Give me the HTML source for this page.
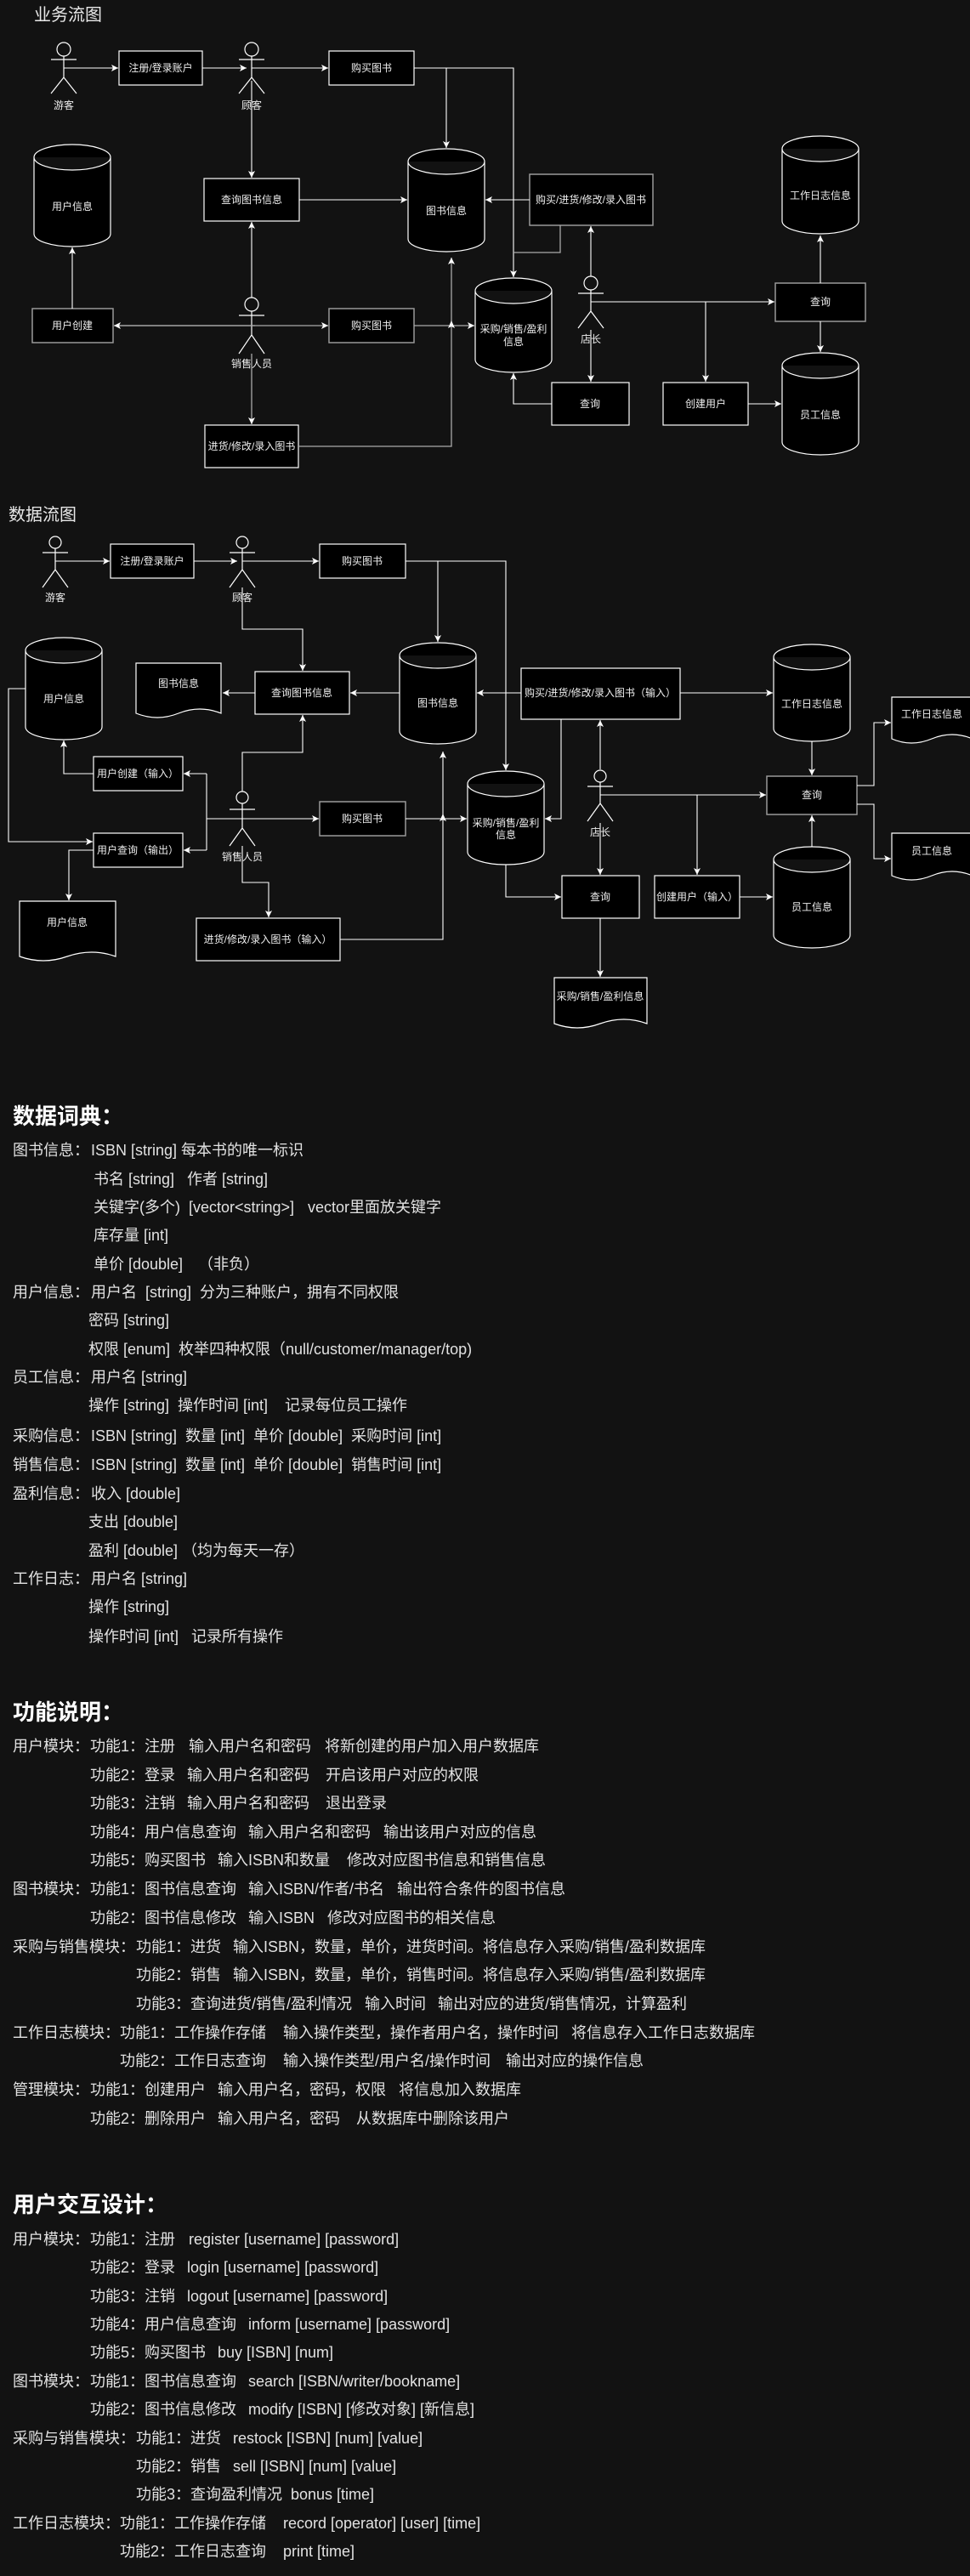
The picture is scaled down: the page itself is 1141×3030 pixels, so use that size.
<!DOCTYPE html>
<html><head><meta charset="utf-8">
<style>
html,body{margin:0;padding:0;background:#121212;}
body{width:1141px;height:3030px;position:relative;overflow:hidden;font-family:"Liberation Sans","Noto Sans CJK SC",sans-serif;color:#e2e2e2;}
svg{position:absolute;left:0;top:0;}
.t{position:absolute;font-size:18px;line-height:24px;white-space:pre;}
.h{position:absolute;font-size:26px;line-height:32px;font-weight:bold;color:#fff;white-space:pre;}
</style></head><body>
<svg width="1141" height="1240" viewBox="0 0 1141 1240" font-family="Liberation Sans, Noto Sans CJK SC, sans-serif">
<defs>
<marker id="a" markerUnits="userSpaceOnUse" markerWidth="10" markerHeight="10" refX="8" refY="4" orient="auto"><path d="M0,0 L8,4 L0,8 L2,4 z" fill="#fff"/></marker>
</defs>
<g fill="#e8e8e8" font-size="20"><text x="40" y="24">业务流图</text><text x="10" y="612">数据流图</text></g>

<!-- ===== Diagram 1 ===== -->
<g stroke="#fff" stroke-width="1.2" fill="#000">
<rect x="140" y="60" width="98" height="40"/>
<rect x="387" y="60" width="100" height="40"/>
<rect x="240" y="210" width="112" height="50"/>
<rect x="241" y="500" width="110" height="50"/>
<rect x="649" y="450" width="91" height="50"/>
<rect x="780" y="450" width="100" height="50"/>
</g>
<g stroke="#999" stroke-width="1.5" fill="#000">
<rect x="38" y="363" width="95" height="40"/>
<rect x="387" y="363" width="100" height="40"/>
<rect x="623" y="205" width="145" height="60"/>
<rect x="912" y="333" width="106" height="45"/>
</g>
<g stroke="#fff" stroke-width="1.2" fill="#000">
<path d="M40,185 a45,15 0 0 1 90,0 v90 a45,15 0 0 1 -90,0 z M40,185 a45,15 0 0 0 90,0"/>
<path d="M480,190 a45,15 0 0 1 90,0 v91 a45,15 0 0 1 -90,0 z M480,190 a45,15 0 0 0 90,0"/>
<path d="M559,342 a45,15 0 0 1 90,0 v81 a45,15 0 0 1 -90,0 z M559,342 a45,15 0 0 0 90,0"/>
<path d="M920,175 a45,15 0 0 1 90,0 v85 a45,15 0 0 1 -90,0 z M920,175 a45,15 0 0 0 90,0"/>
<path d="M920,430 a45,15 0 0 1 90,0 v90 a45,15 0 0 1 -90,0 z M920,430 a45,15 0 0 0 90,0"/>
</g>
<!-- actors d1 -->
<g stroke="#fff" stroke-width="1.2" fill="none">
<circle cx="75" cy="58" r="8"/><path d="M60,70 H90 M75,66 V91 L60,110 M75,91 L90,110"/>
<circle cx="296" cy="58" r="8"/><path d="M281,70 H311 M296,66 V91 L281,110 M296,91 L311,110"/>
<circle cx="296" cy="358" r="8"/><path d="M281,371 H311 M296,366 V394 L281,416 M296,394 L311,416"/>
<circle cx="695" cy="333" r="8"/><path d="M680,345 H710 M695,341 V366 L680,386 M695,366 L710,386"/>
</g>
<!-- connectors d1 -->
<g stroke="#fff" stroke-width="1.1" fill="none">
<path d="M75,80 H139" marker-end="url(#a)"/>
<path d="M238,80 H290" marker-end="url(#a)"/>
<path d="M296,80 H386" marker-end="url(#a)"/>
<path d="M296,95 V209" marker-end="url(#a)"/>
<path d="M487,80 H604 V326" marker-end="url(#a)"/>
<path d="M525,80 V174" marker-end="url(#a)"/>
<path d="M352,235 H479" marker-end="url(#a)"/>
<path d="M296,350 V261" marker-end="url(#a)"/>
<path d="M85,363 V291" marker-end="url(#a)"/>
<path d="M623,235 H571" marker-end="url(#a)"/>
<path d="M695,325 V266" marker-end="url(#a)"/>
<path d="M695,388 V449" marker-end="url(#a)"/>
<path d="M649,475 H604 V439" marker-end="url(#a)"/>
<path d="M695,355 H911" marker-end="url(#a)"/>
<path d="M830,355 V449" marker-end="url(#a)"/>
<path d="M880,475 H919" marker-end="url(#a)"/>
<path d="M965,333 V277" marker-end="url(#a)"/>
<path d="M965,378 V414" marker-end="url(#a)"/>
</g>
<g stroke="#aaa" stroke-width="1.3" fill="none">
<path d="M140,383 H386" marker-end="url(#a)"/>
<path d="M300,383 H134" marker-end="url(#a)"/>
<path d="M487,383 H558" marker-end="url(#a)"/>
<path d="M296,416 V499" marker-end="url(#a)"/>
<path d="M351,525 H531 V303" marker-end="url(#a)"/>
<path d="M659,265 V297 H604"/>
</g>
<path d="M531,377 L535,386 L531,384 L527,386 z" fill="#fff"/>
<g fill="#eee" font-size="12" text-anchor="middle">
<text x="75" y="128">游客</text><text x="296" y="128">顾客</text>
<text x="296" y="432">销售人员</text><text x="695" y="403">店长</text>
<text x="189" y="84">注册/登录账户</text><text x="437" y="84">购买图书</text>
<text x="296" y="239">查询图书信息</text><text x="296" y="529">进货/修改/录入图书</text>
<text x="694" y="479">查询</text><text x="830" y="479">创建用户</text>
<text x="85" y="387">用户创建</text><text x="437" y="387">购买图书</text>
<text x="695" y="239">购买/进货/修改/录入图书</text><text x="965" y="359">查询</text>
<text x="85" y="247">用户信息</text><text x="525" y="252">图书信息</text>
<text x="604" y="391">采购/销售/盈利</text><text x="604" y="406">信息</text>
<text x="965" y="234">工作日志信息</text><text x="965" y="492">员工信息</text>
</g>

<!-- ===== Diagram 2 ===== -->
<g stroke="#fff" stroke-width="1.2" fill="#000">
<rect x="130" y="640" width="98" height="40"/>
<rect x="376" y="640" width="101" height="40"/>
<rect x="300" y="790" width="111" height="50"/>
<rect x="110" y="890" width="105" height="40"/>
<rect x="110" y="980" width="105" height="40"/>
<rect x="231" y="1080" width="169" height="50"/>
<rect x="613" y="786" width="187" height="60"/>
<rect x="661" y="1030" width="91" height="50"/>
<rect x="770" y="1030" width="100" height="50"/>
</g>
<g stroke="#999" stroke-width="1.5" fill="#000">
<rect x="376" y="943" width="101" height="40"/>
<rect x="902" y="913" width="106" height="45"/>
</g>
<g stroke="#fff" stroke-width="1.2" fill="#000">
<path d="M30,765 a45,15 0 0 1 90,0 v90 a45,15 0 0 1 -90,0 z M30,765 a45,15 0 0 0 90,0"/>
<path d="M470,771 a45,15 0 0 1 90,0 v89 a45,15 0 0 1 -90,0 z M470,771 a45,15 0 0 0 90,0"/>
<path d="M550,922 a45,15 0 0 1 90,0 v80 a45,15 0 0 1 -90,0 z M550,922 a45,15 0 0 0 90,0"/>
<path d="M910,773 a45,15 0 0 1 90,0 v84 a45,15 0 0 1 -90,0 z M910,773 a45,15 0 0 0 90,0"/>
<path d="M910,1011 a45,15 0 0 1 90,0 v89 a45,15 0 0 1 -90,0 z M910,1011 a45,15 0 0 0 90,0"/>
<!-- documents -->
<path d="M160,780 H260 V839 Q235,829 210,839 Q185,849 160,839 Z"/>
<path d="M23,1060 H136 V1125 Q108,1115 79,1125 Q51,1135 23,1125 Z"/>
<path d="M652,1150 H761 V1204 Q734,1194 706,1204 Q679,1214 652,1204 Z"/>
<path d="M1049,820 H1144 V869 Q1120,859 1096,869 Q1072,879 1049,869 Z"/>
<path d="M1049,980 H1144 V1030 Q1120,1020 1096,1030 Q1072,1040 1049,1030 Z"/>
</g>
<g stroke="#fff" stroke-width="1.2" fill="none">
<circle cx="65" cy="638" r="7"/><path d="M50,650 H80 M65,645 V670 L50,691 M65,670 L80,691"/>
<circle cx="285" cy="638" r="7"/><path d="M270,650 H300 M285,645 V670 L270,691 M285,670 L300,691"/>
<circle cx="285" cy="938" r="7"/><path d="M270,952 H300 M285,945 V974 L270,995 M285,974 L300,995"/>
<circle cx="706" cy="913" r="7"/><path d="M691,925 H721 M706,920 V945 L691,966 M706,945 L721,966"/>
</g>
<g stroke="#fff" stroke-width="1.1" fill="none">
<path d="M65,660 H129" marker-end="url(#a)"/>
<path d="M228,660 H279" marker-end="url(#a)"/>
<path d="M285,660 H375" marker-end="url(#a)"/>
<path d="M477,660 H595 V906" marker-end="url(#a)"/>
<path d="M515,660 V755" marker-end="url(#a)"/>
<path d="M285,691 V740 H356 V789" marker-end="url(#a)"/>
<path d="M300,815 H262" marker-end="url(#a)"/>
<path d="M470,815 H412" marker-end="url(#a)"/>
<path d="M613,815 H561" marker-end="url(#a)"/>
<path d="M30,810 H10 V990 H109" marker-end="url(#a)"/>
<path d="M110,910 H75 V871" marker-end="url(#a)"/>
<path d="M110,1000 H81 V1059" marker-end="url(#a)"/>
<path d="M285,931 V885 H356 V841" marker-end="url(#a)"/>
<path d="M243,963 H375" marker-end="url(#a)"/>
<path d="M243,910 V1000"/>
<path d="M243,910 H216" marker-end="url(#a)"/>
<path d="M243,1000 H216" marker-end="url(#a)"/>
<path d="M477,963 H549" marker-end="url(#a)"/>
<path d="M285,995 V1038 H316 V1079" marker-end="url(#a)"/>
<path d="M400,1105 H521 V884" marker-end="url(#a)"/>
<path d="M800,815 H909" marker-end="url(#a)"/>
<path d="M660,846 V963 H641" marker-end="url(#a)"/>
<path d="M706,905 V847" marker-end="url(#a)"/>
<path d="M706,968 V1029" marker-end="url(#a)"/>
<path d="M595,1017 V1055 H660" marker-end="url(#a)"/>
<path d="M706,1080 V1149" marker-end="url(#a)"/>
<path d="M706,935 H901" marker-end="url(#a)"/>
<path d="M820,935 V1029" marker-end="url(#a)"/>
<path d="M870,1055 H909" marker-end="url(#a)"/>
<path d="M955,872 V912" marker-end="url(#a)"/>
<path d="M955,996 V959" marker-end="url(#a)"/>
<path d="M1008,924 H1028 V850 H1048" marker-end="url(#a)"/>
<path d="M1008,946 H1028 V1010 H1048" marker-end="url(#a)"/>
</g>
<path d="M521,957 L525,966 L521,964 L517,966 z" fill="#fff"/>
<g fill="#eee" font-size="12" text-anchor="middle">
<text x="65" y="707">游客</text><text x="285" y="707">顾客</text>
<text x="285" y="1012">销售人员</text><text x="706" y="983">店长</text>
<text x="179" y="664">注册/登录账户</text><text x="426" y="664">购买图书</text>
<text x="355" y="819">查询图书信息</text>
<text x="162" y="914">用户创建（输入）</text><text x="162" y="1004">用户查询（输出）</text>
<text x="426" y="967">购买图书</text>
<text x="315" y="1109">进货/修改/录入图书（输入）</text>
<text x="706" y="819">购买/进货/修改/录入图书（输入）</text>
<text x="706" y="1059">查询</text><text x="820" y="1059">创建用户（输入）</text>
<text x="955" y="939">查询</text>
<text x="75" y="826">用户信息</text><text x="515" y="831">图书信息</text>
<text x="595" y="972">采购/销售/盈利</text><text x="595" y="986">信息</text>
<text x="955" y="832">工作日志信息</text><text x="955" y="1071">员工信息</text>
<text x="210" y="808">图书信息</text><text x="79" y="1089">用户信息</text>
<text x="706" y="1176">采购/销售/盈利信息</text>
<text x="1096" y="844">工作日志信息</text><text x="1096" y="1005">员工信息</text>
</g>
</svg>

<!-- ===== 数据词典 ===== -->
<div class="h" style="top:1297px;left:15px">数据词典：</div>
<div class="t" style="top:1341px;left:15px">图书信息：</div><div class="t" style="top:1341px;left:107px">ISBN [string] 每本书的唯一标识</div>
<div class="t" style="top:1375px;left:110px">书名 [string]</div><div class="t" style="top:1375px;left:220px">作者 [string]</div>
<div class="t" style="top:1408px;left:110px">关键字(多个)</div><div class="t" style="top:1408px;left:222px">[vector&lt;string&gt;]</div><div class="t" style="top:1408px;left:362px">vector里面放关键字</div>
<div class="t" style="top:1441px;left:110px">库存量 [int]</div>
<div class="t" style="top:1475px;left:110px">单价 [double]</div><div class="t" style="top:1475px;left:233px">（非负）</div>
<div class="t" style="top:1508px;left:15px">用户信息：</div><div class="t" style="top:1508px;left:107px">用户名  [string]  分为三种账户，拥有不同权限</div>
<div class="t" style="top:1541px;left:104px">密码 [string]</div>
<div class="t" style="top:1575px;left:104px">权限 [enum]  枚举四种权限（null/customer/manager/top)</div>
<div class="t" style="top:1608px;left:15px">员工信息：</div><div class="t" style="top:1608px;left:107px">用户名 [string]</div>
<div class="t" style="top:1641px;left:104px">操作 [string]  操作时间 [int]    记录每位员工操作</div>
<div class="t" style="top:1677px;left:15px">采购信息：</div><div class="t" style="top:1677px;left:107px">ISBN [string]  数量 [int]  单价 [double]  采购时间 [int]</div>
<div class="t" style="top:1711px;left:15px">销售信息：</div><div class="t" style="top:1711px;left:107px">ISBN [string]  数量 [int]  单价 [double]  销售时间 [int]</div>
<div class="t" style="top:1745px;left:15px">盈利信息：</div><div class="t" style="top:1745px;left:107px">收入 [double]</div>
<div class="t" style="top:1778px;left:104px">支出 [double]</div>
<div class="t" style="top:1812px;left:104px">盈利 [double] （均为每天一存）</div>
<div class="t" style="top:1845px;left:15px">工作日志：</div><div class="t" style="top:1845px;left:107px">用户名 [string]</div>
<div class="t" style="top:1878px;left:104px">操作 [string]</div>
<div class="t" style="top:1913px;left:104px">操作时间 [int]   记录所有操作</div>

<!-- ===== 功能说明 ===== -->
<div class="h" style="top:1998px;left:15px">功能说明：</div>
<div class="t" style="top:2042px;left:15px">用户模块：</div><div class="t" style="top:2042px;left:106px">功能1：注册</div><div class="t" style="top:2042px;left:222px">输入用户名和密码</div><div class="t" style="top:2042px;left:382px">将新创建的用户加入用户数据库</div>
<div class="t" style="top:2076px;left:106px">功能2：登录</div><div class="t" style="top:2076px;left:220px">输入用户名和密码</div><div class="t" style="top:2076px;left:383px">开启该用户对应的权限</div>
<div class="t" style="top:2109px;left:106px">功能3：注销</div><div class="t" style="top:2109px;left:220px">输入用户名和密码</div><div class="t" style="top:2109px;left:383px">退出登录</div>
<div class="t" style="top:2143px;left:106px">功能4：用户信息查询</div><div class="t" style="top:2143px;left:292px">输入用户名和密码</div><div class="t" style="top:2143px;left:451px">输出该用户对应的信息</div>
<div class="t" style="top:2176px;left:106px">功能5：购买图书</div><div class="t" style="top:2176px;left:256px">输入ISBN和数量</div><div class="t" style="top:2176px;left:408px">修改对应图书信息和销售信息</div>
<div class="t" style="top:2210px;left:15px">图书模块：</div><div class="t" style="top:2210px;left:106px">功能1：图书信息查询</div><div class="t" style="top:2210px;left:292px">输入ISBN/作者/书名</div><div class="t" style="top:2210px;left:467px">输出符合条件的图书信息</div>
<div class="t" style="top:2244px;left:106px">功能2：图书信息修改</div><div class="t" style="top:2244px;left:292px">输入ISBN</div><div class="t" style="top:2244px;left:385px">修改对应图书的相关信息</div>
<div class="t" style="top:2278px;left:15px">采购与销售模块：</div><div class="t" style="top:2278px;left:160px">功能1：进货</div><div class="t" style="top:2278px;left:274px">输入ISBN，数量，单价，进货时间。将信息存入采购/销售/盈利数据库</div>
<div class="t" style="top:2311px;left:160px">功能2：销售</div><div class="t" style="top:2311px;left:274px">输入ISBN，数量，单价，销售时间。将信息存入采购/销售/盈利数据库</div>
<div class="t" style="top:2345px;left:160px">功能3：查询进货/销售/盈利情况</div><div class="t" style="top:2345px;left:429px">输入时间</div><div class="t" style="top:2345px;left:515px">输出对应的进货/销售情况，计算盈利</div>
<div class="t" style="top:2379px;left:15px">工作日志模块：</div><div class="t" style="top:2379px;left:141px">功能1：工作操作存储</div><div class="t" style="top:2379px;left:333px">输入操作类型，操作者用户名，操作时间</div><div class="t" style="top:2379px;left:672px">将信息存入工作日志数据库</div>
<div class="t" style="top:2412px;left:141px">功能2：工作日志查询</div><div class="t" style="top:2412px;left:333px">输入操作类型/用户名/操作时间</div><div class="t" style="top:2412px;left:595px">输出对应的操作信息</div>
<div class="t" style="top:2446px;left:15px">管理模块：</div><div class="t" style="top:2446px;left:106px">功能1：创建用户</div><div class="t" style="top:2446px;left:256px">输入用户名，密码，权限</div><div class="t" style="top:2446px;left:469px">将信息加入数据库</div>
<div class="t" style="top:2480px;left:106px">功能2：删除用户</div><div class="t" style="top:2480px;left:256px">输入用户名，密码</div><div class="t" style="top:2480px;left:419px">从数据库中删除该用户</div>

<!-- ===== 用户交互设计 ===== -->
<div class="h" style="top:2577px;left:15px">用户交互设计：</div>
<div class="t" style="top:2622px;left:15px">用户模块：</div><div class="t" style="top:2622px;left:106px">功能1：注册</div><div class="t" style="top:2622px;left:222px">register [username] [password]</div>
<div class="t" style="top:2655px;left:106px">功能2：登录</div><div class="t" style="top:2655px;left:220px">login [username] [password]</div>
<div class="t" style="top:2689px;left:106px">功能3：注销</div><div class="t" style="top:2689px;left:220px">logout [username] [password]</div>
<div class="t" style="top:2722px;left:106px">功能4：用户信息查询</div><div class="t" style="top:2722px;left:292px">inform [username] [password]</div>
<div class="t" style="top:2755px;left:106px">功能5：购买图书</div><div class="t" style="top:2755px;left:256px">buy [ISBN] [num]</div>
<div class="t" style="top:2789px;left:15px">图书模块：</div><div class="t" style="top:2789px;left:106px">功能1：图书信息查询</div><div class="t" style="top:2789px;left:292px">search [ISBN/writer/bookname]</div>
<div class="t" style="top:2822px;left:106px">功能2：图书信息修改</div><div class="t" style="top:2822px;left:292px">modify [ISBN] [修改对象] [新信息]</div>
<div class="t" style="top:2856px;left:15px">采购与销售模块：</div><div class="t" style="top:2856px;left:160px">功能1：进货</div><div class="t" style="top:2856px;left:274px">restock [ISBN] [num] [value]</div>
<div class="t" style="top:2889px;left:160px">功能2：销售</div><div class="t" style="top:2889px;left:274px">sell [ISBN] [num] [value]</div>
<div class="t" style="top:2922px;left:160px">功能3：查询盈利情况</div><div class="t" style="top:2922px;left:342px">bonus [time]</div>
<div class="t" style="top:2956px;left:15px">工作日志模块：</div><div class="t" style="top:2956px;left:141px">功能1：工作操作存储</div><div class="t" style="top:2956px;left:333px">record [operator] [user] [time]</div>
<div class="t" style="top:2989px;left:141px">功能2：工作日志查询</div><div class="t" style="top:2989px;left:333px">print [time]</div>
</body></html>
